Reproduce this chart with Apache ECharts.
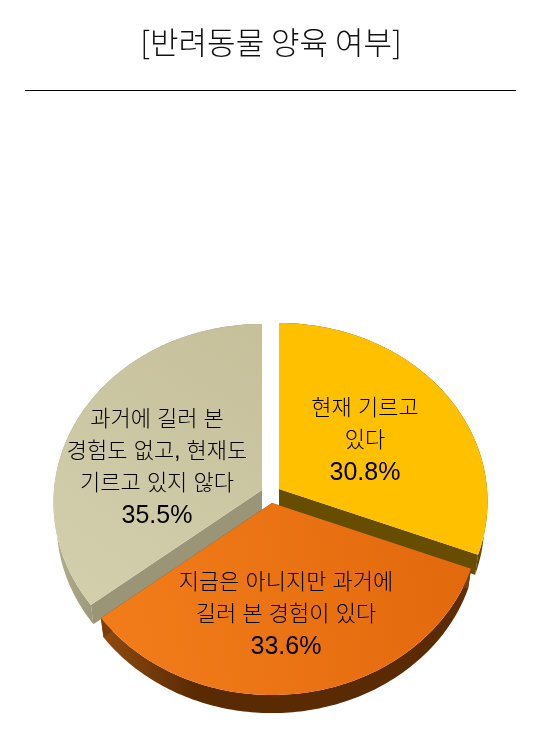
<!DOCTYPE html>
<html><head><meta charset="utf-8">
<style>html,body{margin:0;padding:0;background:#fff}#c{width:537px;height:740px}</style>
<script src="https://cdn.jsdelivr.net/npm/echarts@6/dist/echarts.min.js"></script>
</head><body><div id="c"></div>
<script>
const titleText = '[반려동물 양육 여부]';
const categories = ['현재 기르고\n있다', '지금은 아니지만 과거에\n길러 본 경험이 있다', '과거에 길러 본\n경험도 없고, 현재도\n기르고 있지 않다'];
const values = [30.8, 33.6, 35.5];
const drawOrder = [2, 0, 1];

// projection and styling of the tilted pie
const centers = [[279, 489], [272, 503], [262, 490]];
const labelAnchors = [[365, 409], [286, 583], [157, 420]];
const RX = 208, RY = 179, PX = 0.07, PY = 0.0726, DEPTH = 21, SHRINK = 0.015, PITCH = 32;
const faces = [
  {x:280,y:330,x2:480,y2:550,stops:['#FFC000','#FFC000']},
  {x:110,y:620,x2:470,y2:560,stops:['#F27C1A','#E2690C']},
  {x:240,y:330,x2:70,y2:600,stops:['#C6C09B','#D3CFAD']}
];
const rims = [
  {x:280,x2:480,stops:['#664D00','#5E4700']},
  {x:105,x2:470,stops:['#8E4A10','#5A2A02','#5A2A02','#5E2E06'],offs:[0,0.25,0.9,1]},
  {x:55,x2:100,stops:['#B2AE90','#989476']}
];
const walls = ['#664D00', '#7A3E0C', '#9A9577'];

function grad(g){
  const n = g.stops.length;
  return {type:'linear', global:true, x:g.x, y:g.y||0, x2:g.x2, y2:g.y2||0,
    colorStops:g.stops.map((c,i)=>({offset:g.offs?g.offs[i]:i/(n-1),color:c}))};
}
function proj(c, deg, r, d){
  const t = deg*Math.PI/180, u = r*Math.sin(t), v = -r*Math.cos(t), s = 1-SHRINK*d;
  return [c[0]+RX*u*(1+PX*v)*s, c[1]+RY*v*(1+PY*v)*s+DEPTH*d];
}
const total = values.reduce((a,b)=>a+b,0);
const starts = []; let acc = 0;
values.forEach(v=>{starts.push(acc); acc += v/total*360;});

function arc(c, a0, a1, d){
  const pts = [], n = Math.max(2, Math.ceil(Math.abs(a1-a0)));
  for(let i=0;i<=n;i++) pts.push(proj(c, a0+(a1-a0)*i/n, 1, d));
  return pts;
}
function makeRender(idx){
  return function(params, api){
    const val = api.value(0), a0 = starts[idx], a1 = a0+val/total*360, c = centers[idx];
    const top = arc(c,a0,a1,0), bot = arc(c,a0,a1,1);
    const apex0 = proj(c,0,0,0), apex1 = proj(c,0,0,1);
    const children = [];
    const poly = (points, fill) => ({type:'polygon', shape:{points}, style:{fill}});
    children.push(poly(top.concat(bot.slice().reverse()), grad(rims[idx])));
    children.push(poly([apex0, top[0], bot[0], apex1], walls[idx]));
    children.push(poly([apex0, top[top.length-1], bot[bot.length-1], apex1], walls[idx]));
    children.push(poly([apex0].concat(top), grad(faces[idx])));
    const lines = categories[idx].split('\n');
    const a = labelAnchors[idx];
    lines.forEach((ln,i)=>children.push({type:'text', style:{text:ln, x:a[0], y:a[1]+i*PITCH, align:'center', verticalAlign:'middle',
      fill:'#000', font:'300 22px "Liberation Sans","Noto Sans CJK KR"'}}));
    children.push({type:'text', style:{text:val.toFixed(1)+'%', x:a[0], y:a[1]+lines.length*PITCH, align:'center', verticalAlign:'middle',
      fill:'#000', font:'25px "Liberation Sans"'}});
    return {type:'group', children};
  };
}
const chart = echarts.init(document.getElementById('c'), null, {renderer:'canvas'});
chart.setOption({
  animation:false,
  backgroundColor:'#fff',
  title:{text:titleText, left:266, top:22, textAlign:'center',
    textStyle:{fontFamily:'Noto Sans CJK KR', fontWeight:300, fontSize:31, color:'#111'}},
  graphic:[{type:'line', shape:{x1:25,y1:90.5,x2:516,y2:90.5}, style:{stroke:'#000',lineWidth:1}}],
  series:drawOrder.map(i=>({type:'custom', coordinateSystem:'none', silent:true, clip:false,
    name:categories[i], data:[[values[i]]], renderItem:makeRender(i)}))
});
</script></body></html>
